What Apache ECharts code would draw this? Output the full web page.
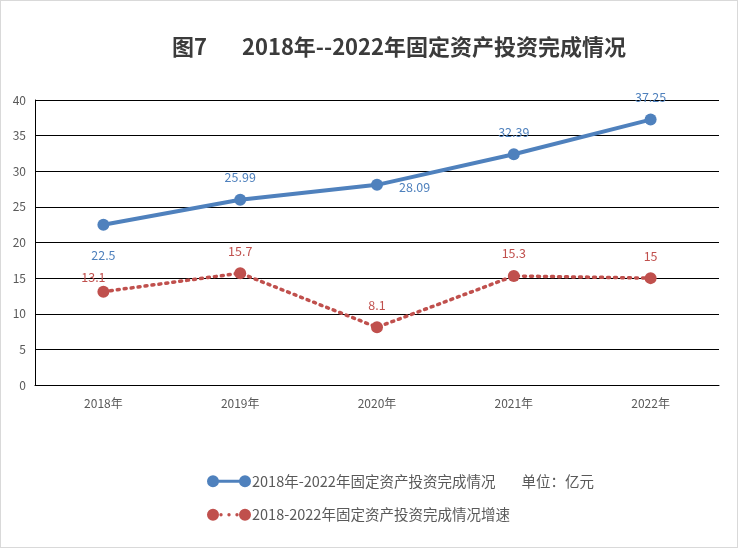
<!DOCTYPE html>
<html><head><meta charset="utf-8">
<script src="https://cdn.jsdelivr.net/npm/echarts@6/dist/echarts.min.js"></script>
<style>html,body{margin:0;padding:0;background:#fff;}#c{width:738px;height:548px;box-sizing:border-box;border:1px solid #d9d9d9;}</style>
</head><body><div id="c"></div>
<script>
var categories = ['2018年','2019年','2020年','2021年','2022年'];
var investment = [22.5, 25.99, 28.09, 32.39, 37.25];
var growth = [13.1, 15.7, 8.1, 15.3, 15];
var yTicks = [0,5,10,15,20,25,30,35,40];
var seriesNames = ['2018年-2022年固定资产投资完成情况        单位：亿元', '2018-2022年固定资产投资完成情况增速'];

var blueLabelPos = [
  {position:'bottom', distance:18},
  {position:'top', distance:10},
  {position:'right', distance:16, offset:[0,2]},
  {position:'top', distance:10},
  {position:'top', distance:10}
];
var redLabelPos = [
  {position:'top', distance:2, offset:[-10,0]},
  {position:'top', distance:10},
  {position:'top', distance:10},
  {position:'top', distance:10},
  {position:'top', distance:10}
];
var font = 'Noto Sans CJK SC';
var chart = echarts.init(document.getElementById('c'));
var iconBlue = 'path://M6,0A6,6 0 1,1 6,12A6,6 0 1,1 6,0ZM38,0A6,6 0 1,1 38,12A6,6 0 1,1 38,0ZM8,4.5L36,4.5L36,7.5L8,7.5Z';
var iconRed = 'path://M6,0A6,6 0 1,1 6,12A6,6 0 1,1 6,0ZM38,0A6,6 0 1,1 38,12A6,6 0 1,1 38,0ZM14,4.3A1.7,1.7 0 1,1 14,7.7A1.7,1.7 0 1,1 14,4.3ZM22,4.3A1.7,1.7 0 1,1 22,7.7A1.7,1.7 0 1,1 22,4.3ZM30,4.3A1.7,1.7 0 1,1 30,7.7A1.7,1.7 0 1,1 30,4.3Z';
chart.setOption({
  animation:false,
  textStyle:{fontFamily:font},
  title:{text:'图7       2018年--2022年固定资产投资完成情况', left:166, top:30,
    textStyle:{fontSize:22, fontWeight:'bold', color:'#3b3b3b', fontFamily:font}},
  grid:{left:34, right:18, top:99, bottom:162},
  legend:{orient:'vertical', left:201, top:468, itemGap:19, itemWidth:44, itemHeight:12,
    textStyle:{fontSize:14.5, color:'#595959', fontFamily:font, padding:[0,0,0,-4]},
    data:[{name:seriesNames[0], icon:iconBlue},{name:seriesNames[1], icon:iconRed}]},
  xAxis:{type:'category', data:categories, boundaryGap:true,
    axisLine:{lineStyle:{color:'#000', width:1}}, axisTick:{show:false},
    axisLabel:{color:'#595959', fontSize:12, margin:12}},
  yAxis:{type:'value', min:0, max:40, interval:5,
    axisLine:{show:true, lineStyle:{color:'#000'}}, axisTick:{show:false},
    splitLine:{lineStyle:{color:'#000', width:1}},
    axisLabel:{color:'#595959', fontSize:12, margin:9,
      formatter:function(v){return yTicks.indexOf(v)>=0? String(v):'';}}},
  series:[
    {name:seriesNames[0], type:'line', symbol:'circle', symbolSize:12,
      itemStyle:{color:'#4F81BD'}, lineStyle:{width:4, color:'#4F81BD'},
      label:{show:true, color:'#4F81BD', fontSize:12.5},
      data:investment.map(function(v,i){return {value:v, label:blueLabelPos[i]};})},
    {name:seriesNames[1], type:'line', symbol:'circle', symbolSize:12,
      itemStyle:{color:'#C0504D'}, lineStyle:{width:3.5, type:[2,5], color:'#C0504D', cap:'round'},
      label:{show:true, color:'#C0504D', fontSize:12.5},
      data:growth.map(function(v,i){return {value:v, label:redLabelPos[i]};})}
  ]
});
</script></body></html>
